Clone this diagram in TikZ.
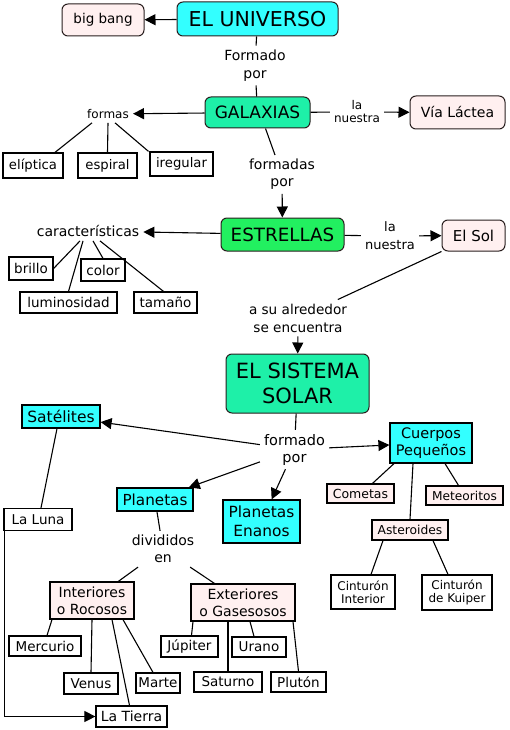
\documentclass[tikz,border=0pt]{standalone}
\usepackage{fontspec}
\setmainfont{DejaVu Sans}
\usetikzlibrary{arrows.meta}
\newcommand\fsz[2]{\fontsize{#1}{#2}\selectfont}
\definecolor{cyanf}{RGB}{51,255,255}
\definecolor{mintf}{RGB}{30,240,168}
\definecolor{greenf}{RGB}{34,240,96}
\definecolor{pinkf}{RGB}{255,240,240}
\definecolor{edgec}{RGB}{40,30,30}
\begin{document}
\begin{tikzpicture}[x=1pt,y=-1pt,
  rnd/.style={draw=edgec, line width=1pt, rounded corners=6pt, inner sep=0pt, align=center},
  sq/.style={draw=black, line width=1.2pt, inner sep=0pt, align=center},
  lbl/.style={inner sep=4pt, align=center},
  con/.style={line width=1.1pt},
  arr/.style={line width=1.1pt, -{Triangle[length=11pt,width=11pt]}}]
\useasboundingbox (0,0) rectangle (509,730);
% level 1
\node[rnd, fill=pinkf, minimum width=82, minimum height=32, font=\fsz{13.5}{16}] (bigbang) at (103,20) {big bang};
\node[rnd, fill=cyanf, minimum width=161, minimum height=34, font=\fsz{20.5}{24}] (universo) at (257.5,19) {EL UNIVERSO};
\node[lbl, font=\fsz{14}{18}] (formado1) at (255,65.5) {Formado\\por};
\node[rnd, fill=mintf, minimum width=105, minimum height=31, font=\fsz{17}{20}] (galaxias) at (257.5,112.5) {GALAXIAS};
\node[lbl, font=\fsz{12}{14}] (formas) at (108,114) {formas};
\node[lbl, font=\fsz{12}{13}] (nuestra1) at (357,112) {la\\nuestra};
\node[rnd, fill=pinkf, minimum width=95, minimum height=33, font=\fsz{14}{17}] (vialactea) at (457.5,112.5) {Vía Láctea};
\node[sq, minimum width=60, minimum height=25, font=\fsz{13.2}{16}] (elip) at (33,165.5) {elíptica};
\node[sq, minimum width=59, minimum height=25, font=\fsz{13.2}{16}] (espiral) at (107.5,165.5) {espiral};
\node[sq, minimum width=63, minimum height=24, font=\fsz{13.2}{16}] (iregular) at (181.5,164) {iregular};
\node[lbl, font=\fsz{14}{17}] (formadas) at (282,174.5) {formadas\\por};
% estrellas
\node[rnd, fill=greenf, minimum width=123, minimum height=33, font=\fsz{18.3}{22}] (estrellas) at (282.5,234.5) {ESTRELLAS};
\node[lbl, font=\fsz{14}{17}] (caract) at (88,231) {características};
\node[sq, minimum width=44, minimum height=23, font=\fsz{13.5}{16}] (brillo) at (31,268.5) {brillo};
\node[sq, minimum width=44, minimum height=22, font=\fsz{13.5}{16}] (color) at (103,270) {color};
\node[sq, minimum width=97, minimum height=21, font=\fsz{13.5}{16}] (lumin) at (68.5,302.5) {luminosidad};
\node[sq, minimum width=63, minimum height=21, font=\fsz{13.5}{16}] (tamano) at (165.5,302.5) {tamaño};
\node[lbl, font=\fsz{13}{18}] (nuestra2) at (390,236) {la\\nuestra};
\node[rnd, fill=pinkf, minimum width=63, minimum height=31, font=\fsz{15}{18}] (elsol) at (473.5,235.5) {El Sol};
\node[lbl, font=\fsz{13.6}{18}] (alrededor) at (298,318) {a su alrededor\\se encuentra};
% sistema solar
\node[rnd, fill=mintf, minimum width=143, minimum height=59, font=\fsz{21}{25}] (ss) at (297.5,383.5) {EL SISTEMA\\SOLAR};
\node[lbl, font=\fsz{14.5}{17}] (formado2) at (294.5,449.5) {formado\\por};
\node[sq, fill=cyanf, minimum width=78, minimum height=23, font=\fsz{15.5}{18}] (satelites) at (61,416.5) {Satélites};
\node[sq, fill=cyanf, minimum width=82, minimum height=40, font=\fsz{14.5}{17}] (cuerpos) at (431,443) {Cuerpos\\Pequeños};
\node[sq, fill=cyanf, minimum width=76, minimum height=23, font=\fsz{15.2}{18}] (planetas) at (155,499.5) {Planetas};
\node[sq, fill=cyanf, minimum width=77, minimum height=43, font=\fsz{15.4}{19}] (enanos) at (261.5,521.5) {Planetas\\Enanos};
\node[sq, fill=pinkf, minimum width=67, minimum height=19, font=\fsz{12.5}{15}] (cometas) at (360.5,493.5) {Cometas};
\node[sq, fill=pinkf, minimum width=77, minimum height=19, font=\fsz{12.2}{15}] (meteoritos) at (464.5,495.5) {Meteoritos};
\node[sq, fill=pinkf, minimum width=76, minimum height=20, font=\fsz{12.3}{15}] (asteroides) at (410,530) {Asteroides};
\node[sq, minimum width=64, minimum height=34, font=\fsz{12}{13}] (cintint) at (363,592) {Cinturón\\Interior};
\node[sq, minimum width=70, minimum height=35, font=\fsz{12}{13}] (cintkuip) at (457,592.5) {Cinturón\\de Kuiper};
\node[sq, minimum width=68, minimum height=22, font=\fsz{13.5}{16}] (luna) at (38,519.5) {La Luna};
\node[lbl, font=\fsz{14}{17}] (divididos) at (163,549) {divididos\\en};
\node[sq, fill=pinkf, minimum width=84, minimum height=37, font=\fsz{14}{17}] (interiores) at (92,600.5) {Interiores\\o Rocosos};
\node[sq, fill=pinkf, minimum width=104, minimum height=37, font=\fsz{14}{17}] (exteriores) at (243,602.5) {Exteriores\\o Gasesosos};
\node[sq, minimum width=72, minimum height=20, font=\fsz{13.5}{16}] (mercurio) at (45,646) {Mercurio};
\node[sq, minimum width=54, minimum height=21, font=\fsz{13.5}{16}] (venus) at (91,683.5) {Venus};
\node[sq, minimum width=44, minimum height=20, font=\fsz{13.5}{16}] (marte) at (158,683) {Marte};
\node[sq, minimum width=71, minimum height=21, font=\fsz{14}{16}] (tierra) at (131.5,716.5) {La Tierra};
\node[sq, minimum width=57, minimum height=21, font=\fsz{13.5}{16}] (jupiter) at (189.5,646.5) {Júpiter};
\node[sq, minimum width=54, minimum height=20, font=\fsz{13.5}{16}] (urano) at (259,647) {Urano};
\node[sq, minimum width=68, minimum height=20, font=\fsz{13.5}{16}] (saturno) at (228,682) {Saturno};
\node[sq, minimum width=55, minimum height=20, font=\fsz{13.5}{16}] (pluton) at (298.5,682) {Plutón};
% connectors
\draw[arr] (universo) -- (bigbang);
\draw[con] (universo) -- (formado1);
\draw[con] (formado1) -- (galaxias);
\draw[arr] (galaxias) -- (formas);
\draw[con] ([xshift=-16]formas.south) -- ([xshift=22]elip.north);
\draw[con] (formas.south) -- (espiral.north);
\draw[con] ([xshift=7]formas.south) -- ([xshift=-33]iregular.north);
\draw[con] (galaxias) -- (nuestra1);
\draw[arr] (nuestra1) -- (vialactea);
\draw[con] ([xshift=8]galaxias.south) -- (formadas);
\draw[arr] (formadas) -- (estrellas);
\draw[arr] (estrellas) -- (caract);
\draw[con] ([xshift=-8]caract.south) -- (brillo.east);
\draw[con] ([xshift=-5]caract.south) -- (lumin.north);
\draw[con] ([xshift=5]caract.south) -- (color.north);
\draw[con] ([xshift=12]caract.south) -- ([xshift=-2]tamano.north);
\draw[con] (estrellas) -- (nuestra2);
\draw[arr] (nuestra2) -- (elsol);
\draw[con] (elsol.south west) -- (alrededor);
\draw[arr] (alrededor) -- (ss);
\draw[con] (ss) -- (formado2);
\draw[arr] (formado2) -- (satelites);
\draw[arr] (formado2) -- (cuerpos);
\draw[arr] (formado2) -- (planetas);
\draw[arr] (formado2) -- (enanos);
\draw[con] ([xshift=-37]cuerpos.south) -- ([xshift=12]cometas.north);
\draw[con] ([xshift=14]cuerpos.south) -- ([xshift=-6]meteoritos.north);
\draw[con] ([xshift=-18]cuerpos.south) -- (asteroides.north);
\draw[con] ([xshift=-27]asteroides.south) -- ([xshift=8]cintint.north);
\draw[con] ([xshift=23]asteroides.south) -- ([xshift=-9]cintkuip.north);
\draw[con] ([xshift=-4]satelites.south) -- ([xshift=3]luna.north);
\draw[arr] ([xshift=1]luna.south west) |- (tierra.west);
\draw[con] (planetas) -- (divididos);
\draw[con] (divididos) -- (interiores);
\draw[con] (divididos) -- (exteriores);
\draw[con] ([xshift=-40]interiores.south) -- ([xshift=2]mercurio.north);
\draw[con] (interiores.south) -- (venus.north);
\draw[con] ([xshift=20]interiores.south) -- ([xshift=-2]tierra.north);
\draw[con] ([xshift=31]interiores.south) -- ([xshift=-5]marte.north);
\draw[con] ([xshift=-50]exteriores.south) -- ([xshift=2]jupiter.north);
\draw[con] ([xshift=-15]exteriores.south) -- (saturno.north);
\draw[con] ([xshift=7]exteriores.south) -- ([xshift=-5]urano.north);
\draw[con] ([xshift=50]exteriores.south) -- (pluton.north);
\end{tikzpicture}
\end{document}
